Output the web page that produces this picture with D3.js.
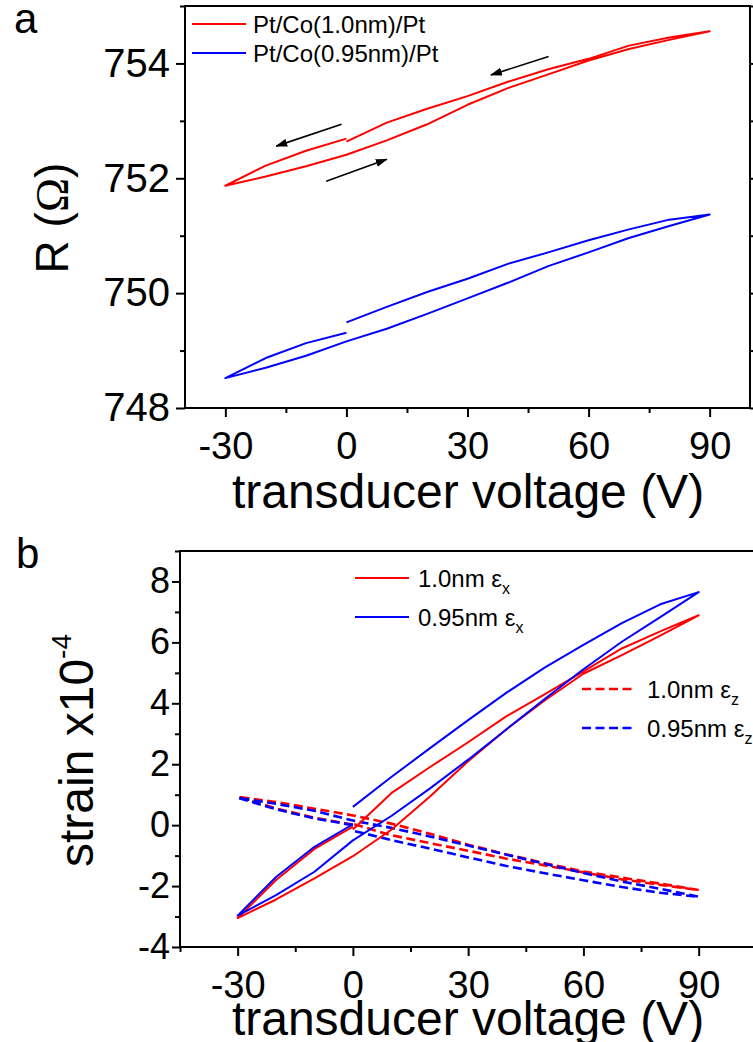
<!DOCTYPE html>
<html>
<head>
<meta charset="utf-8">
<script src="https://cdn.jsdelivr.net/npm/d3@7"></script>
<style>
  body { margin: 0; background: #fff; }
  svg { display: block; }
  text { font-family: "Liberation Sans", Arial, Helvetica, sans-serif; fill: #000; }
</style>
</head>
<body>
<svg id="fig" width="753" height="1042"></svg>
<script>
// Voltage sweep order of each loop: 0 → -30 → 90 → 0 V
const sweepVolts = [0, -10, -20, -30, -20, -10, 0, 10, 20, 30, 40, 50, 60, 70, 80, 90, 80, 70, 60, 50, 40, 30, 20, 10, 0];

// Panel a: resistance (Ω)
const resCo10 = [752.69, 752.48, 752.22, 751.87, 752.03, 752.21, 752.41, 752.66, 752.94, 753.28, 753.57, 753.81, 754.05, 754.25, 754.41, 754.56, 754.45, 754.31, 754.08, 753.90, 753.68, 753.43, 753.21, 752.97, 752.64];
const resCo095 = [749.31, 749.13, 748.87, 748.52, 748.70, 748.91, 749.16, 749.38, 749.64, 749.91, 750.18, 750.47, 750.71, 750.96, 751.17, 751.37, 751.28, 751.11, 750.92, 750.71, 750.51, 750.25, 750.02, 749.76, 749.49];

// Panel b: strain (x10^-4)
const strainX10 = [-0.05, -0.78, -1.80, -3.05, -2.44, -1.75, -1.02, -0.15, 0.93, 2.10, 3.15, 4.10, 4.97, 5.58, 6.22, 6.89, 6.36, 5.80, 5.05, 4.30, 3.58, 2.72, 1.90, 1.05, -0.14];
const strainX095 = [0.03, -0.71, -1.70, -2.97, -2.30, -1.53, -0.50, 0.30, 1.20, 2.15, 3.15, 4.15, 5.12, 6.02, 6.83, 7.65, 7.25, 6.63, 5.92, 5.18, 4.35, 3.45, 2.52, 1.58, 0.60];
const strainZ10 = [0.02, 0.24, 0.55, 0.93, 0.76, 0.54, 0.32, 0.05, -0.28, -0.64, -0.96, -1.25, -1.52, -1.72, -1.92, -2.13, -1.96, -1.78, -1.55, -1.32, -1.10, -0.84, -0.59, -0.33, 0.04];
const strainZ095 = [0.00, 0.22, 0.52, 0.90, 0.70, 0.47, 0.15, -0.09, -0.37, -0.67, -0.97, -1.27, -1.57, -1.85, -2.09, -2.35, -2.22, -2.03, -1.81, -1.58, -1.34, -1.06, -0.77, -0.49, -0.18];

// Tick values
const voltTicks = [-30, 0, 30, 60, 90];
const voltMinorA = [-15, 15, 45, 75];
const voltMinorB = [-45, -15, 15, 45, 75, 105];
const resTicks = [748, 750, 752, 754];
const resMinor = [749, 751, 753, 755];
const strainTicks = [-4, -2, 0, 2, 4, 6, 8];
const strainMinor = [-3, -1, 1, 3, 5, 7, 9];

// Sweep-direction arrows in panel a, as [V, R] pairs
const arrowFrom = [[50.1, 754.12], [-1.2, 752.94], [-5.0, 751.95]];
const arrowTo   = [[35.8, 753.80], [-17.4, 752.56], [10.0, 752.33]];

// Legend entries
const legendA = ["Pt/Co(1.0nm)/Pt", "Pt/Co(0.95nm)/Pt"];
const legendB = [["1.0nm ", "x"], ["0.95nm ", "x"], ["1.0nm ", "z"], ["0.95nm ", "z"]];

const RED = "#ff0000", BLUE = "#0000ff";
const DASH = "9,4.5";
const svg = d3.select("#fig");

svg.append("defs").append("marker")
  .attr("id", "head").attr("markerUnits", "userSpaceOnUse")
  .attr("viewBox", "0 0 12 8").attr("markerWidth", 12).attr("markerHeight", 8)
  .attr("refX", 11).attr("refY", 4).attr("orient", "auto")
  .append("path").attr("d", "M0,0 L12,4 L0,8 Z").attr("fill", "#000");

function ticks(g, axisFn, scale, values, size, pad, fontSize, withLabels) {
  const ax = axisFn(scale).tickValues(values).tickSize(size).tickPadding(pad)
    .tickFormat(withLabels ? (d => String(d)) : () => "");
  g.call(ax);
  g.select(".domain").remove();
  g.selectAll(".tick line").attr("stroke", "#000").attr("stroke-width", 2);
  g.selectAll(".tick text").attr("font-size", fontSize)
    .attr("font-family", "'Liberation Sans', Arial, sans-serif").attr("fill", "#000");
}

// ---------------- Panel a ----------------
const xa = d3.scaleLinear().domain([-40, 100]).range([185, 750]);
const ya = d3.scaleLinear().domain([748, 755]).range([408, 6]);
const pa = svg.append("g");

ticks(pa.append("g").attr("transform", "translate(0,408)"), d3.axisBottom, xa, voltTicks, 9, 15, 38, true);
ticks(pa.append("g").attr("transform", "translate(0,408)"), d3.axisBottom, xa, voltMinorA, 5, 0, 10, false);
ticks(pa.append("g").attr("transform", "translate(185,0)"), d3.axisLeft, ya, resTicks, 9, 6, 40, true);
ticks(pa.append("g").attr("transform", "translate(185,0)"), d3.axisLeft, ya, resMinor, 5, 0, 10, false);
ticks(pa.append("g").attr("transform", "translate(750,0)"), d3.axisRight, ya, resTicks, 9, 0, 10, false);
ticks(pa.append("g").attr("transform", "translate(750,0)"), d3.axisRight, ya, resMinor, 5, 0, 10, false);

pa.append("rect").attr("x", 185).attr("y", 6).attr("width", 565).attr("height", 402)
  .attr("fill", "none").attr("stroke", "#000").attr("stroke-width", 2);

const lineA = d3.line().x(d => xa(d[0])).y(d => ya(d[1]));
[[resCo10, RED], [resCo095, BLUE]].forEach(([vals, col]) => {
  pa.append("path").datum(d3.zip(sweepVolts, vals)).attr("d", lineA)
    .attr("fill", "none").attr("stroke", col).attr("stroke-width", 2).attr("stroke-linejoin", "round");
});

d3.zip(arrowFrom, arrowTo).forEach(([f, t]) => {
  pa.append("line").attr("x1", xa(f[0])).attr("y1", ya(f[1])).attr("x2", xa(t[0])).attr("y2", ya(t[1]))
    .attr("stroke", "#000").attr("stroke-width", 1.6).attr("marker-end", "url(#head)");
});

legendA.forEach((name, i) => {
  const y = 24 + i * 29;
  pa.append("line").attr("x1", 192).attr("x2", 246).attr("y1", y).attr("y2", y)
    .attr("stroke", i === 0 ? RED : BLUE).attr("stroke-width", 2);
  pa.append("text").attr("x", 253).attr("y", y + 9).attr("font-size", 24).text(name);
});

pa.append("text").attr("x", 468).attr("y", 508).attr("text-anchor", "middle")
  .attr("font-size", 48).text("transducer voltage (V)");
const rt = pa.append("text").attr("transform", "translate(68,218) rotate(-90)").attr("text-anchor", "middle")
  .attr("font-size", 46);
rt.append("tspan").text("R (");
rt.append("tspan").attr("font-family", "'Liberation Serif', 'Times New Roman', serif").text("Ω");
rt.append("tspan").text(")");
pa.append("text").attr("x", 14).attr("y", 33).attr("font-size", 42).text("a");

// ---------------- Panel b ----------------
const xb = d3.scaleLinear().domain([-45, 105]).range([180, 756.3]);
const yb = d3.scaleLinear().domain([-4, 9]).range([947, 551]);
const pb = svg.append("g");

ticks(pb.append("g").attr("transform", "translate(0,947)"), d3.axisBottom, xb, voltTicks, 9, 15, 38, true);
ticks(pb.append("g").attr("transform", "translate(0,947)"), d3.axisBottom, xb, voltMinorB, 5, 0, 10, false);
ticks(pb.append("g").attr("transform", "translate(180,0)"), d3.axisLeft, yb, strainTicks, 8, 2, 36, true);
ticks(pb.append("g").attr("transform", "translate(180,0)"), d3.axisLeft, yb, strainMinor, 5, 0, 10, false);

pb.append("rect").attr("x", 180).attr("y", 551).attr("width", 576.3).attr("height", 396)
  .attr("fill", "none").attr("stroke", "#000").attr("stroke-width", 2);

const lineB = d3.line().x(d => xb(d[0])).y(d => yb(d[1]));
[[strainZ10, RED, true], [strainZ095, BLUE, true], [strainX10, RED, false], [strainX095, BLUE, false]]
  .forEach(([vals, col, dashed]) => {
    pb.append("path").datum(d3.zip(sweepVolts, vals)).attr("d", lineB)
      .attr("fill", "none").attr("stroke", col)
      .attr("stroke-width", dashed ? 2.6 : 2).attr("stroke-linejoin", "round")
      .attr("stroke-dasharray", dashed ? DASH : null);
  });

legendB.forEach(([name, sub], i) => {
  const dashed = i >= 2;
  const y = [578, 617, 689, 728][i];
  const x0 = dashed ? 582 : 355, x1 = dashed ? 634 : 409, tx = dashed ? 647 : 418;
  pb.append("line").attr("x1", x0).attr("x2", x1).attr("y1", y).attr("y2", y)
    .attr("stroke", i % 2 === 0 ? RED : BLUE).attr("stroke-width", dashed ? 2.6 : 2)
    .attr("stroke-dasharray", dashed ? DASH : null);
  const t = pb.append("text").attr("x", tx).attr("y", y + 9).attr("font-size", 24);
  t.append("tspan").text(name + "ε");
  t.append("tspan").attr("dy", 7).attr("font-size", 16).text(sub);
});

pb.append("text").attr("x", 468).attr("y", 1035).attr("text-anchor", "middle")
  .attr("font-size", 48).text("transducer voltage (V)");
const st = pb.append("text").attr("transform", "translate(93,867) rotate(-90)").attr("font-size", 48);
st.append("tspan").text("strain x10");
st.append("tspan").attr("dy", -22).attr("font-size", 28).text("-4");
pb.append("text").attr("x", 16).attr("y", 568).attr("font-size", 42).text("b");
</script>
</body>
</html>
